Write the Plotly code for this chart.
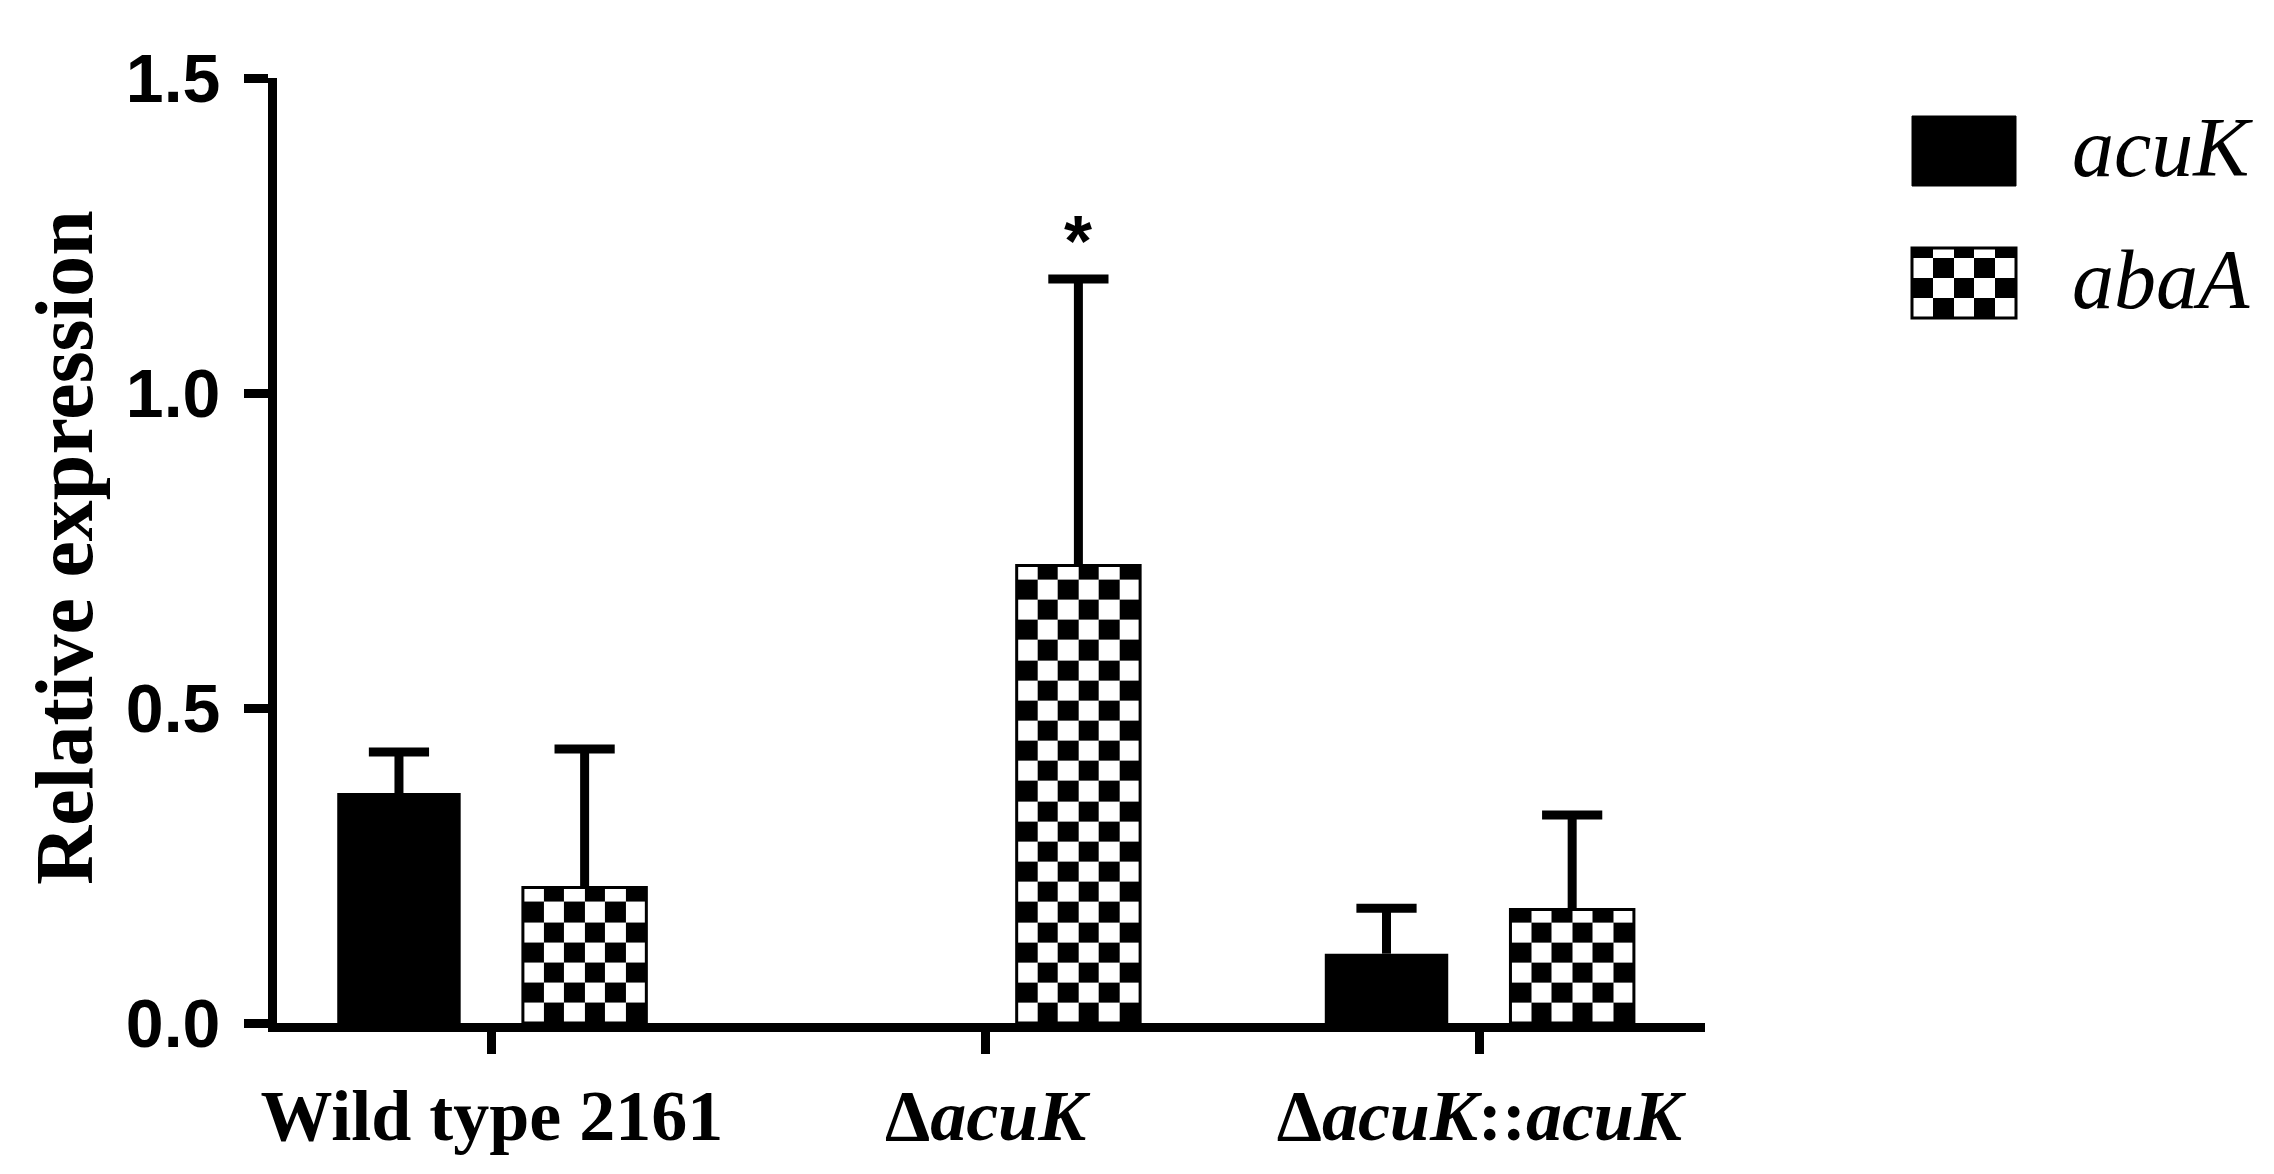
import plotly.graph_objects as go
import numpy as np

# data
groups = ["Wild type 2161", "Δ<i>acuK</i>", "Δ<i>acuK</i>::<i>acuK</i>"]
acuK_mean = [0.365, 0.0, 0.11]
acuK_sd = [0.065, 0.0, 0.072]
abaA_mean = [0.215, 0.726, 0.18]
abaA_sd = [0.22, 0.455, 0.15]
signif = ["", "*", ""]

W, H = 2274, 1174
bar_w = 0.25
shift = 0.188
cell_h = 0.032   # checker cell height in y units
ncols = 6

SERIF = "Liberation Serif, Times New Roman, serif"
SANS = "Liberation Sans, Arial, sans-serif"

x_pos = np.arange(len(groups))


def checker(x0, x1, top, nx, dy):
    xe = np.linspace(x0, x1, nx + 1)
    ye = list(np.arange(0, top, dy))
    if top - ye[-1] < 1e-9:
        ye = ye[:-1]
    ye.append(top)
    z = [[(i + j) % 2 for j in range(nx)] for i in range(len(ye) - 1)]
    return xe, ye, z


def error_traces(centers, means, sds):
    # one-sided error bars: stem from bar top up to mean+sd, plus a cap
    lx, ly, cx, cy = [], [], [], []
    for c, m, s in zip(centers, means, sds):
        if not s:
            continue
        lx += [c, c, None]
        ly += [m, m + s, None]
        cx.append(c)
        cy.append(m + s)
    stem = go.Scatter(x=lx, y=ly, mode="lines", line=dict(color="black", width=9),
                      hoverinfo="skip", showlegend=False)
    cap = go.Scatter(x=cx, y=cy, mode="markers", hoverinfo="skip", showlegend=False,
                     marker=dict(symbol="line-ew", size=43,
                                 line=dict(color="black", width=9)))
    return [stem, cap]


fig = go.Figure()

# checkerboard fill for abaA (heatmaps sit below the bar layer)
for xc, v in zip(x_pos, abaA_mean):
    xe, ye, z = checker(xc + shift - bar_w / 2, xc + shift + bar_w / 2, v, ncols, cell_h)
    fig.add_trace(go.Heatmap(
        x=xe, y=ye, z=z, zmin=0, zmax=1,
        colorscale=[[0, "white"], [1, "black"]],
        showscale=False, hoverinfo="skip", xaxis="x", yaxis="y",
    ))

fig.add_trace(go.Bar(
    name="acuK", x=x_pos, y=acuK_mean, width=bar_w, offset=-shift - bar_w / 2,
    marker=dict(color="black", line=dict(width=0)),
    showlegend=False, hoverinfo="skip",
))
fig.add_trace(go.Bar(
    name="abaA", x=x_pos, y=abaA_mean, width=bar_w, offset=shift - bar_w / 2,
    marker=dict(color="rgba(0,0,0,0)", line=dict(color="black", width=3)),
    showlegend=False, hoverinfo="skip",
))
for t in error_traces(x_pos - shift, acuK_mean, acuK_sd):
    fig.add_trace(t)
for t in error_traces(x_pos + shift, abaA_mean, abaA_sd):
    fig.add_trace(t)

# legend checker swatch on its own small axes
lx, ly, lz = checker(0, 5, 3.5, 5, 1)
fig.add_trace(go.Heatmap(
    x=lx, y=ly, z=lz, zmin=0, zmax=1,
    colorscale=[[0, "white"], [1, "black"]],
    showscale=False, hoverinfo="skip", xaxis="x2", yaxis="y2",
))

annotations = []
for xc, v, s, mark in zip(x_pos, abaA_mean, abaA_sd, signif):
    if mark:
        annotations.append(dict(
            x=xc + shift, y=v + s, xref="x", yref="y", text=f"<b>{mark}</b>",
            showarrow=False, yanchor="bottom", yshift=-4,
            font=dict(family=SANS, size=72, color="black"),
        ))

annotations.append(dict(
    text="<b>Relative expression</b>", textangle=-90,
    x=56 / W, y=1 - 540 / H, xref="paper", yref="paper",
    xanchor="center", yanchor="middle", showarrow=False,
    font=dict(family=SERIF, size=82, color="black"),
))
for label, yc in [("acuK", 139), ("abaA", 271)]:
    annotations.append(dict(
        text=f"<i>{label}</i>", x=2062 / W, y=1 - yc / H,
        xref="paper", yref="paper", xanchor="left", yanchor="middle",
        showarrow=False, font=dict(family=SERIF, size=84, color="black"),
    ))

shapes = [
    dict(type="rect", xref="paper", yref="paper",
         x0=1904 / W, x1=2008 / W, y0=1 - 178 / H, y1=1 - 108 / H,
         fillcolor="black", line=dict(color="black", width=1)),
    dict(type="rect", xref="paper", yref="paper",
         x0=1904 / W, x1=2008 / W, y0=1 - 310 / H, y1=1 - 240 / H,
         fillcolor="rgba(0,0,0,0)", line=dict(color="black", width=3)),
]

fig.update_layout(
    width=W, height=H,
    margin=dict(l=0, r=0, t=0, b=0, autoexpand=False),
    plot_bgcolor="white", paper_bgcolor="white",
    barmode="overlay",
    showlegend=False,
    xaxis=dict(
        domain=[269 / W, 1697 / W], range=[-0.435, 2.457],
        tickvals=list(x_pos), ticktext=[f"<b>{g}</b>" for g in groups],
        showline=True, linecolor="black", linewidth=9,
        ticks="outside", ticklen=22, tickwidth=9, tickcolor="black",
        showgrid=False, zeroline=False, automargin=False,
        tickfont=dict(family=SERIF, size=72, color="black"),
        ticklabelstandoff=0,
    ),
    yaxis=dict(
        domain=[1 - 1015 / H, 1 - 70 / H], range=[0, 1.5],
        tickvals=[0, 0.5, 1.0, 1.5], ticktext=["0.0", "0.5", "1.0", "1.5"],
        showline=True, linecolor="black", linewidth=9,
        ticks="outside", ticklen=24, tickwidth=9, tickcolor="black",
        showgrid=False, zeroline=False, automargin=False,
        tickfont=dict(family=SANS, size=68, color="black", weight="bold"),
        ticklabelstandoff=10,
    ),
    xaxis2=dict(domain=[1904 / W, 2008 / W], range=[0, 5], visible=False,
                anchor="y2", fixedrange=True, automargin=False),
    yaxis2=dict(domain=[1 - 310 / H, 1 - 240 / H], range=[0, 3.5], visible=False,
                anchor="x2", fixedrange=True, automargin=False),
    annotations=annotations,
    shapes=shapes,
)

fig.write_html("out.html")
